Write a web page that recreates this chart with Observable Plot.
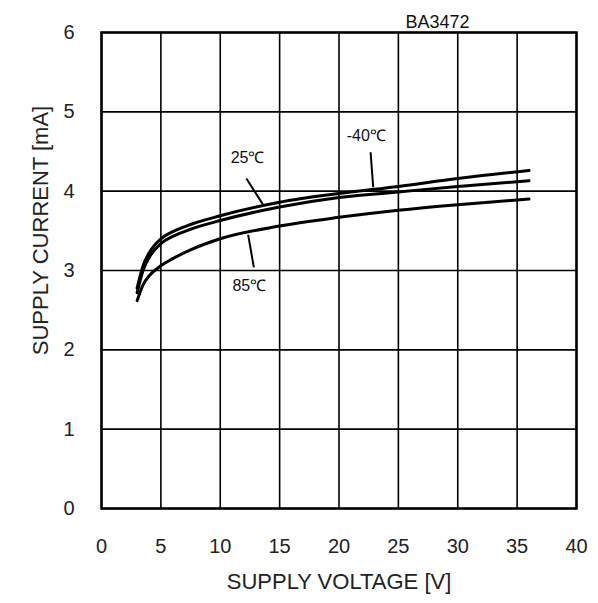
<!DOCTYPE html>
<html>
<head>
<meta charset="utf-8">
<script src="https://cdn.jsdelivr.net/npm/d3@7"></script>
<script src="https://cdn.jsdelivr.net/npm/@observablehq/plot@0.6"></script>
<style>
  html, body { margin: 0; padding: 0; background: #fff; }
  #chart svg { display: block; }
</style>
</head>
<body>
<div id="chart"></div>
<script>
// Supply voltage [V]
const voltage = [3, 3.5, 4, 5, 6, 7.5, 10, 15, 20, 25, 30, 36];
// Supply current [mA] per temperature
const currentM40 = [2.78, 3.06, 3.22, 3.40, 3.49, 3.58, 3.69, 3.86, 3.97, 4.06, 4.16, 4.26];
const current25  = [2.72, 3.00, 3.16, 3.34, 3.43, 3.52, 3.63, 3.80, 3.92, 3.99, 4.06, 4.13];
const current85  = [2.62, 2.82, 2.93, 3.06, 3.15, 3.26, 3.40, 3.56, 3.67, 3.76, 3.83, 3.90];

const xTicks = [0, 5, 10, 15, 20, 25, 30, 35, 40];
const yTicks = [0, 1, 2, 3, 4, 5, 6];
const xLabel = "SUPPLY VOLTAGE [V]";
const yLabel = "SUPPLY CURRENT [mA]";
const titleText = "BA3472";

// Annotation labels and leader lines
const labelText = ["-40℃", "25℃", "85℃"];
const labelX = [22.3, 12.3, 12.45];
const labelY = [4.70, 4.42, 2.80];
const leaderX1 = [22.66, 12.2, 12.35];
const leaderY1 = [4.49, 4.16, 3.45];
const leaderX2 = [22.88, 13.6, 12.83];
const leaderY2 = [4.05, 3.83, 3.04];

const series = [
  {name: "-40℃", values: currentM40},
  {name: "25℃", values: current25},
  {name: "85℃", values: current85}
];
const rows = series.flatMap(s => voltage.map((v, i) => ({temp: s.name, v, i: s.values[i]})));
const labels = labelText.map((t, k) => ({t, x: labelX[k], y: labelY[k]}));
const leaders = labelText.map((t, k) => ({x1: leaderX1[k], y1: leaderY1[k], x2: leaderX2[k], y2: leaderY2[k]}));

const font = "'Liberation Sans', Arial, sans-serif";

const chart = Plot.plot({
  width: 598,
  height: 603,
  marginLeft: 101,
  marginRight: 22,
  marginTop: 32,
  marginBottom: 95,
  style: {fontFamily: font, fontSize: "20px", color: "#222", background: "#fff"},
  x: {domain: [0, 40]},
  y: {domain: [0, 6]},
  marks: [
    Plot.gridX(xTicks, {stroke: "#000", strokeOpacity: 1, strokeWidth: 1.6}),
    Plot.gridY(yTicks, {stroke: "#000", strokeOpacity: 1, strokeWidth: 1.6}),
    Plot.axisX(xTicks, {tickSize: 0, tickPadding: 30, fontSize: 20, tickFormat: d => String(d), label: null}),
    Plot.axisY(yTicks, {tickSize: 0, tickPadding: 27, fontSize: 20, tickFormat: d => String(d), label: null}),
    Plot.frame({stroke: "#000", strokeWidth: 2.5}),
    Plot.line(rows, {x: "v", y: "i", z: "temp", curve: "monotone-x", stroke: "#000", strokeWidth: 3}),
    Plot.link(leaders, {x1: "x1", y1: "y1", x2: "x2", y2: "y2", stroke: "#000", strokeWidth: 2}),
    Plot.text(labels, {x: "x", y: "y", text: "t", fontSize: 16, fill: "#111"}),
    Plot.text([titleText], {x: 28.3, frameAnchor: "top", dy: -17, text: d => d, fontSize: 18, fill: "#111"}),
    Plot.text([xLabel], {frameAnchor: "bottom", dy: 80, text: d => d, fontSize: 22, fill: "#222", style: "letter-spacing:0.6px"}),
    Plot.text([yLabel], {frameAnchor: "left", textAnchor: "middle", dx: -61, dy: -40, rotate: -90, text: d => d, fontSize: 22, fill: "#222", style: "letter-spacing:1.2px"})
  ]
});
document.getElementById("chart").append(chart);
</script>
</body>
</html>
